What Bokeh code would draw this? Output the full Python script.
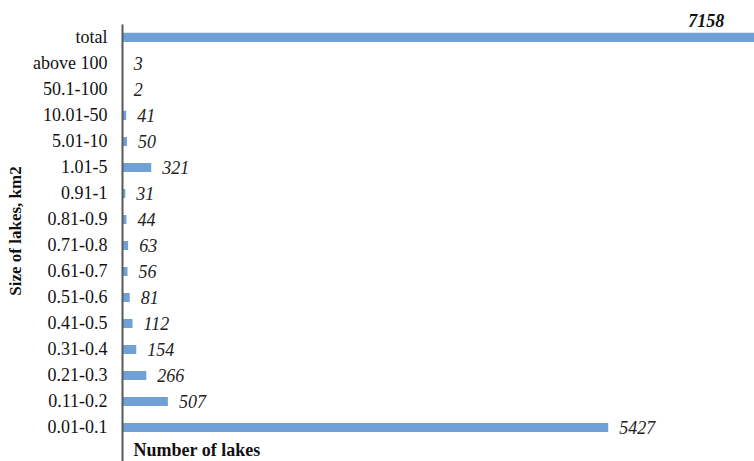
from bokeh.plotting import figure
from bokeh.models import Range1d, FixedTicker, ColumnDataSource, Label
from bokeh.core.properties import value
from bokeh.embed import file_html
from bokeh.resources import INLINE

categories = ["0.01-0.1", "0.11-0.2", "0.21-0.3", "0.31-0.4", "0.41-0.5",
              "0.51-0.6", "0.61-0.7", "0.71-0.8", "0.81-0.9", "0.91-1",
              "1.01-5", "5.01-10", "10.01-50", "50.1-100", "above 100", "total"]
counts = [5427, 507, 266, 154, 112, 81, 56, 63, 44, 31, 321, 50, 41, 2, 3, 7158]
x_title = "Number of lakes"
y_title = "Size of lakes, km2"

positions = list(range(len(categories)))
FONT = "Liberation Serif"
BAR = "#6FA0D6"

Y_LO, Y_AXIS_TOP, Y_HI = -1.31, 15.5, 16.42

p = figure(width=754, height=461,
           x_range=Range1d(0, 7061), y_range=Range1d(Y_LO, Y_HI),
           output_backend="svg", toolbar_location=None,
           min_border_left=122, min_border_right=0,
           min_border_top=0, min_border_bottom=0)

p.hbar(y=positions, left=0, right=counts, height=0.35,
       color=BAR, line_color=None)

# value labels for the size classes
src = ColumnDataSource(dict(
    x=counts[:-1], y=positions[:-1], t=[str(c) for c in counts[:-1]]))
p.text(x="x", y="y", text="t", source=src, x_offset=11,
       text_align="left", text_baseline="middle",
       text_font=value(FONT), text_font_style="italic",
       text_font_size="18px", text_color="#222222")

# total label
p.add_layout(Label(x=counts[-1], y=positions[-1], text=str(counts[-1]),
                   x_offset=-39, y_offset=17,
                   text_align="right", text_baseline="middle",
                   text_font=FONT, text_font_style="bold italic",
                   text_font_size="18px", text_color="#111111"))

# x title inside plot area
p.add_layout(Label(x=0, y=-1, text=x_title, x_offset=11, y_offset=3,
                   text_align="left", text_baseline="middle",
                   text_font=FONT, text_font_style="bold",
                   text_font_size="18px", text_color="#111111"))

p.xaxis.visible = False
p.grid.visible = False
p.outline_line_color = None

ax = p.yaxis[0]
ax.bounds = (Y_LO, Y_AXIS_TOP)
ax.ticker = FixedTicker(ticks=positions)
ax.major_label_overrides = {i: c for i, c in zip(positions, categories)}
ax.major_tick_out = 0
ax.major_tick_in = 0
ax.minor_tick_out = 0
ax.minor_tick_in = 0
ax.major_label_standoff = 15
ax.major_label_text_font = FONT
ax.major_label_text_font_size = "18px"
ax.major_label_text_color = "#111111"
ax.axis_line_color = "#595959"
ax.axis_line_width = 2
ax.axis_label = y_title
ax.axis_label_text_font = FONT
ax.axis_label_text_font_style = "bold"
ax.axis_label_text_font_size = "17px"
ax.axis_label_text_color = "#111111"
ax.axis_label_standoff = 5

open("out.html", "w").write(file_html(p, INLINE))
